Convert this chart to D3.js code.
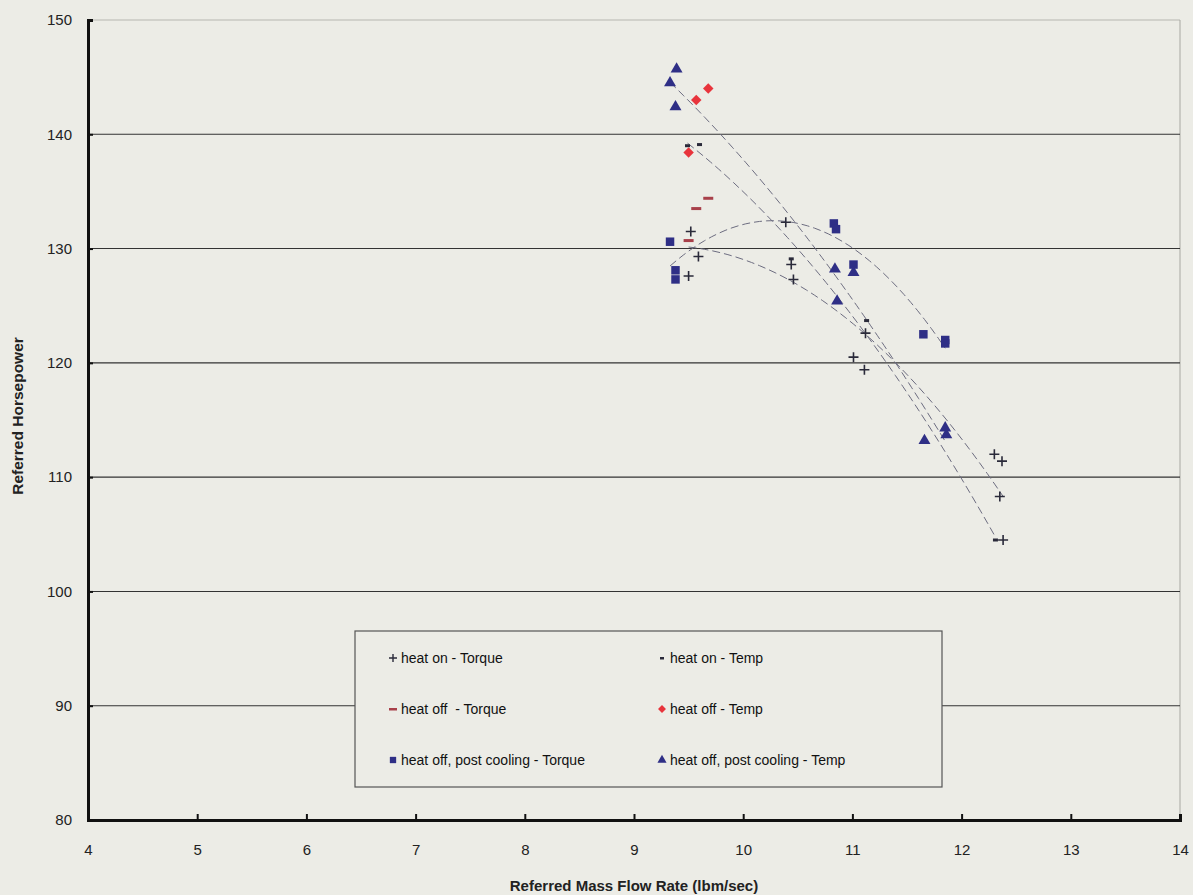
<!DOCTYPE html>
<html><head><meta charset="utf-8">
<script src="https://cdn.jsdelivr.net/npm/d3@7"></script>
<style>
html,body{margin:0;padding:0;background:#ecece6;}
svg{display:block;font-family:"Liberation Sans",Arial,sans-serif;}
</style></head><body>
<svg id="c" width="1193" height="895"></svg>
<script>
const xTicks=[4,5,6,7,8,9,10,11,12,13,14];
const yTicks=[80,90,100,110,120,130,140,150];

const heatOnTorqueX=[9.50,9.52,9.59,10.39,10.44,10.46,11.01,11.11,11.12,12.30,12.35,12.37,12.38];
const heatOnTorqueY=[127.6,131.5,129.3,132.3,128.6,127.3,120.5,119.4,122.6,112.0,108.3,111.4,104.5];
const heatOnTempX=[9.49,9.60,10.44,11.13,12.31];
const heatOnTempY=[139.0,139.1,129.1,123.7,104.5];
const heatOffTorqueX=[9.50,9.57,9.68];
const heatOffTorqueY=[130.7,133.5,134.4];
const heatOffTempX=[9.50,9.57,9.68];
const heatOffTempY=[138.4,143.0,144.0];
const postTorqueX=[9.33,9.38,9.38,10.83,10.85,11.01,11.65,11.85,11.85];
const postTorqueY=[130.6,128.1,127.3,132.2,131.7,128.6,122.5,122.0,121.7];
const postTempX=[9.39,9.33,9.38,10.84,11.01,10.86,11.66,11.85,11.86];
const postTempY=[145.7,144.5,142.4,128.2,127.9,125.4,113.2,114.3,113.7];

const seriesNames=["heat on - Torque","heat on - Temp","heat off  - Torque","heat off - Temp","heat off, post cooling - Torque","heat off, post cooling - Temp"];

const svg=d3.select("#c");
const L=88,R=1180,T=20,B=820;
const x=d3.scaleLinear().domain([4,14]).range([L,R]);
const y=d3.scaleLinear().domain([80,150]).range([B,T]);

// plot frame (light)
svg.append("line").attr("x1",L).attr("x2",R).attr("y1",y(150)).attr("y2",y(150)).attr("stroke","#c8c8c2").attr("stroke-width",1.5);
svg.append("line").attr("x1",R).attr("x2",R).attr("y1",T).attr("y2",B).attr("stroke","#a8a8a2").attr("stroke-width",1);

// gridlines
svg.append("g").selectAll("line").data(yTicks.filter(d=>d>80&&d<150)).join("line")
  .attr("x1",L).attr("x2",R).attr("y1",d=>y(d)).attr("y2",d=>y(d))
  .attr("stroke","#333").attr("stroke-width",1.1);

// axes
const xAxis=d3.axisBottom(x).tickValues(xTicks).tickSize(-6).tickPadding(24).tickFormat(d3.format("d"));
const gx=svg.append("g").attr("transform",`translate(0,${B})`).call(xAxis);
gx.select(".domain").attr("stroke","#111").attr("stroke-width",3);
gx.selectAll(".tick line").attr("stroke","#111").attr("stroke-width",2);
gx.selectAll("text").attr("font-size",15).attr("fill","#222").attr("font-family","Liberation Sans, Arial, sans-serif");
const yAxis=d3.axisLeft(y).tickValues(yTicks).tickSize(-5).tickPadding(16).tickFormat(d3.format("d"));
const gy=svg.append("g").attr("transform",`translate(${L},0)`).call(yAxis);
gy.select(".domain").attr("stroke","#111").attr("stroke-width",3);
gy.selectAll(".tick line").attr("stroke","#111").attr("stroke-width",2);
gy.selectAll("text").attr("font-size",15).attr("fill","#222").attr("font-family","Liberation Sans, Arial, sans-serif");

// axis titles
svg.append("text").attr("x",634).attr("y",891).attr("text-anchor","middle").attr("font-size",15).attr("font-weight","bold").attr("fill","#222").text("Referred Mass Flow Rate (lbm/sec)");
svg.append("text").attr("transform","translate(23,416) rotate(-90)").attr("text-anchor","middle").attr("font-size",15.5).attr("font-weight","bold").attr("fill","#222").text("Referred Horsepower");

// quadratic trendlines
function quadFit(xs,ys){
  const n=xs.length;let s=[0,0,0,0,0],t=[0,0,0];
  for(let i=0;i<n;i++){const xi=xs[i];for(let k=0;k<5;k++)s[k]+=Math.pow(xi,k);for(let k=0;k<3;k++)t[k]+=ys[i]*Math.pow(xi,k);}
  const M=[[s[0],s[1],s[2],t[0]],[s[1],s[2],s[3],t[1]],[s[2],s[3],s[4],t[2]]];
  for(let i=0;i<3;i++){let p=i;for(let r=i+1;r<3;r++)if(Math.abs(M[r][i])>Math.abs(M[p][i]))p=r;[M[i],M[p]]=[M[p],M[i]];
    for(let r=0;r<3;r++){if(r===i)continue;const f=M[r][i]/M[i][i];for(let c=i;c<4;c++)M[r][c]-=f*M[i][c];}}
  return [M[0][3]/M[0][0],M[1][3]/M[1][1],M[2][3]/M[2][2]];
}
const trendSets=[[heatOnTorqueX,heatOnTorqueY],[heatOnTempX,heatOnTempY],[postTorqueX,postTorqueY],[postTempX,postTempY]];
const tg=svg.append("g");
trendSets.forEach(([xs,ys])=>{
  const c=quadFit(xs,ys);const x0=d3.min(xs),x1=d3.max(xs);
  const pts=d3.range(0,41).map(i=>{const xv=x0+(x1-x0)*i/40;return [xv,c[0]+c[1]*xv+c[2]*xv*xv];});
  tg.append("path").attr("d",d3.line().x(d=>x(d[0])).y(d=>y(d[1]))(pts))
    .attr("fill","none").attr("stroke","#6c6c80").attr("stroke-width",1).attr("stroke-dasharray","8,4");
});

// markers
const navy="#2f2f86",dark="#2a2a3a",red="#e8343c",dred="#a8404a";
const mg=svg.append("g");
function plus(g,xs,ys,col){
  g.selectAll(null).data(xs.map((v,i)=>[v,ys[i]])).join("path")
    .attr("d",d=>{const cx=x(d[0]),cy=y(d[1]);return `M${cx-5},${cy}H${cx+5}M${cx},${cy-5}V${cy+5}`;})
    .attr("stroke",col).attr("stroke-width",1.6);
}
function dash(g,xs,ys,col,w,h){
  g.selectAll(null).data(xs.map((v,i)=>[v,ys[i]])).join("rect")
    .attr("x",d=>x(d[0])-w/2).attr("y",d=>y(d[1])-h/2).attr("width",w).attr("height",h).attr("fill",col);
}
function sym(g,xs,ys,type,size,col){
  g.selectAll(null).data(xs.map((v,i)=>[v,ys[i]])).join("path")
    .attr("transform",d=>`translate(${x(d[0])},${y(d[1])})`)
    .attr("d",d3.symbol().type(type).size(size)).attr("fill",col);
}
plus(mg,heatOnTorqueX,heatOnTorqueY,dark);
dash(mg,heatOnTempX,heatOnTempY,dark,5,3);
dash(mg,heatOffTorqueX,heatOffTorqueY,dred,10,3);
sym(mg,heatOffTempX,heatOffTempY,d3.symbolDiamond2,70,red);
sym(mg,postTorqueX,postTorqueY,d3.symbolSquare,72,navy);
sym(mg,postTempX,postTempY,d3.symbolTriangle,62,navy);

// legend
const lg=svg.append("g");
lg.append("rect").attr("x",355).attr("y",631).attr("width",587).attr("height",156).attr("fill","#ecece6").attr("stroke","#555").attr("stroke-width",1.2);
const legItems=[
  {c:0,r:0,name:seriesNames[0],m:"plus"},
  {c:1,r:0,name:seriesNames[1],m:"sdash"},
  {c:0,r:1,name:seriesNames[2],m:"ldash"},
  {c:1,r:1,name:seriesNames[3],m:"diamond"},
  {c:0,r:2,name:seriesNames[4],m:"square"},
  {c:1,r:2,name:seriesNames[5],m:"triangle"}];
const colX=[397,666],rowY=[658,709,760];
legItems.forEach(it=>{
  const mx=colX[it.c]-4,my=rowY[it.r];
  if(it.m==="plus")lg.append("path").attr("d",`M${mx-4},${my}H${mx+4}M${mx},${my-4}V${my+4}`).attr("stroke",dark).attr("stroke-width",1.4);
  if(it.m==="sdash")lg.append("rect").attr("x",mx-2).attr("y",my-1).attr("width",4).attr("height",2.5).attr("fill",dark);
  if(it.m==="ldash")lg.append("rect").attr("x",mx-4).attr("y",my-1).attr("width",8).attr("height",2.5).attr("fill",dred);
  if(it.m==="diamond")lg.append("path").attr("transform",`translate(${mx},${my})`).attr("d",d3.symbol().type(d3.symbolDiamond2).size(40)).attr("fill",red);
  if(it.m==="square")lg.append("path").attr("transform",`translate(${mx},${my})`).attr("d",d3.symbol().type(d3.symbolSquare).size(40)).attr("fill",navy);
  if(it.m==="triangle")lg.append("path").attr("transform",`translate(${mx},${my})`).attr("d",d3.symbol().type(d3.symbolTriangle).size(36)).attr("fill",navy);
  lg.append("text").attr("x",colX[it.c]+4).attr("y",my+5).attr("font-size",14).attr("fill","#111").attr("xml:space","preserve").style("white-space","pre").text(it.name);
});
</script>
</body></html>
